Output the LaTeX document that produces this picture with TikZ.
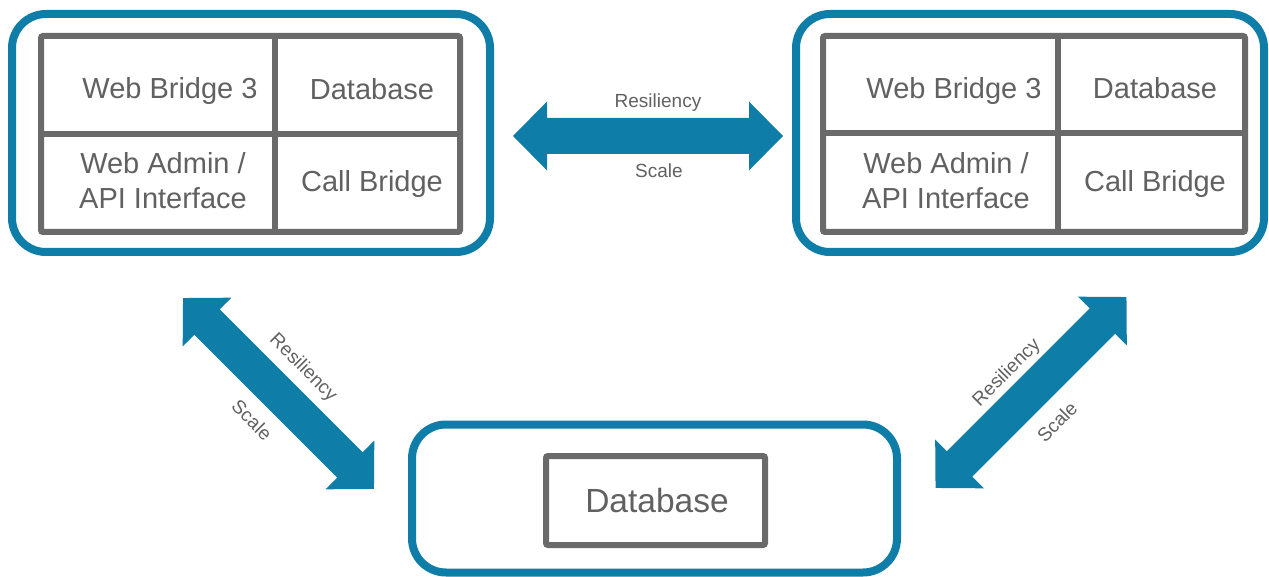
\documentclass[tikz,border=0pt]{standalone}
\usepackage{fontspec}
\setmainfont{Liberation Sans}
\definecolor{ciscoblue}{HTML}{0E7DA8}
\definecolor{boxgray}{HTML}{6A6A6A}
\definecolor{txtgray}{HTML}{616161}
\tikzset{
  outerbox/.style={draw=ciscoblue, line width=8pt, rounded corners=34pt, fill=white, inner sep=0pt},
  gridbox/.style={draw=boxgray, line width=6pt, rounded corners=2pt, inner sep=0pt},
  gridline/.style={draw=boxgray, line width=6pt},
  celltext/.style={text=txtgray, font=\fontsize{29}{34}\selectfont, inner sep=0pt, anchor=base},
  twoline/.style={text=txtgray, font=\fontsize{29}{35}\selectfont, inner sep=0pt, align=center},
  lbl/.style={text=txtgray, font=\fontsize{19}{22}\selectfont, inner sep=0pt},
  pics/dblarrow/.style={code={
    \fill[ciscoblue] (-135,0) -- (-101,-34.5) -- (-101,-18) -- (101,-18) -- (101,-34.5)
      -- (135,0) -- (101,34.5) -- (101,18) -- (-101,18) -- (-101,34.5) -- cycle;}}
}
\begin{document}
\begin{tikzpicture}[x=1pt, y=-1pt]
\useasboundingbox (0,0) rectangle (1269,577);

% left server
\node[outerbox, minimum width=478pt, minimum height=238pt] (L) at (251,133) {};
\node[gridbox, minimum width=419pt, minimum height=196pt] (Lg) at (250.5,134) {};
\draw[gridline] (275,0 |- Lg.north) -- (275,0 |- Lg.south);
\draw[gridline] (Lg.west |- 0,134) -- (Lg.east |- 0,134);
\node[celltext] (Lwb) at (170,99) {Web Bridge 3};
\node[celltext] (Ldb) at (372,100) {Database};
\node[twoline] (Lwa) at (163,180.5) {Web Admin /\\API Interface};
\node[celltext] (Lcb) at (372,192) {Call Bridge};

% right server
\node[outerbox, minimum width=468pt, minimum height=238pt] (R) at (1030,133) {};
\node[gridbox, minimum width=422pt, minimum height=196pt] (Rg) at (1034,134) {};
\draw[gridline] (1058,0 |- Rg.north) -- (1058,0 |- Rg.south);
\draw[gridline] (Rg.west |- 0,133) -- (Rg.east |- 0,133);
\node[celltext] (Rwb) at (954,99) {Web Bridge 3};
\node[celltext] (Rdb) at (1155,99) {Database};
\node[twoline] (Rwa) at (946,180.5) {Web Admin /\\API Interface};
\node[celltext] (Rcb) at (1155,192) {Call Bridge};

% bottom database server
\node[outerbox, minimum width=485pt, minimum height=148pt] (B) at (654.5,498.5) {};
\node[gridbox, minimum width=219pt, minimum height=89pt] (Bg) at (655.5,500.5) {};
\node[text=txtgray, font=\fontsize{33.5}{38}\selectfont, inner sep=0pt, anchor=base] (Bdb) at (657,512) {Database};

% arrows
\pic (arrH) at (648,136) {dblarrow};
\node[lbl, anchor=base] (hRes) at (658,108) {Resiliency};
\node[lbl, anchor=base] (hSca) at (659,178) {Scale};

\pic[rotate=-45] (arrL) at (278.5,393.5) {dblarrow};
\node[lbl, rotate=-45] (lRes) at (303,368) {Resiliency};
\node[lbl, rotate=-45] (lSca) at (252,420) {Scale};

\pic[rotate=45] (arrR) at (1031,392.5) {dblarrow};
\node[lbl, rotate=45] (rRes) at (1007,373) {Resiliency};
\node[lbl, rotate=45] (rSca) at (1057,422) {Scale};
\end{tikzpicture}
\end{document}
